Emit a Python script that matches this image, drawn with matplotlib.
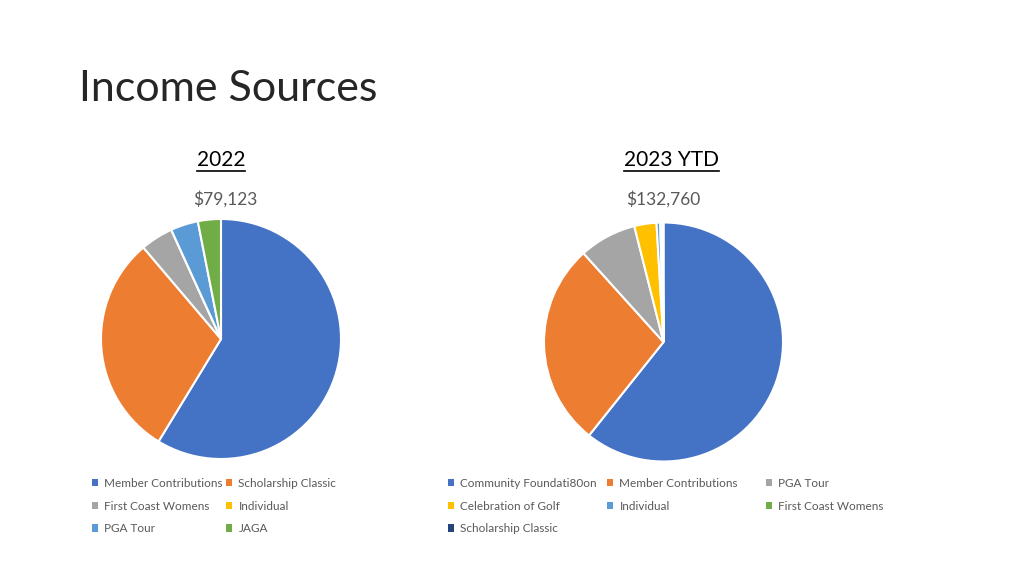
import matplotlib.pyplot as plt
from matplotlib.lines import Line2D
from matplotlib.patches import Patch

# 2022 income by source
labels_2022 = ["Member Contributions", "Scholarship Classic", "First Coast Womens",
               "Individual", "PGA Tour", "JAGA"]
values_2022 = [46450, 23800, 3480, 0, 2930, 2450]
total_2022 = "$79,123"

# 2023 YTD income by source
labels_2023 = ["Community Foundati80on", "Member Contributions", "PGA Tour",
               "Celebration of Golf", "Individual", "First Coast Womens",
               "Scholarship Classic"]
values_2023 = [80600, 36650, 10290, 3980, 660, 400, 180]
total_2023 = "$132,760"

# Office palette
BLUE, ORANGE, GRAY, YELLOW, LBLUE, GREEN, DBLUE = (
    "#4472C4", "#ED7D31", "#A5A5A5", "#FFC000", "#5B9BD5", "#70AD47", "#264478")
colors_2022 = [BLUE, ORANGE, GRAY, YELLOW, LBLUE, GREEN]
colors_2023 = [BLUE, ORANGE, GRAY, YELLOW, LBLUE, GREEN, DBLUE]

plt.rcParams["font.family"] = ["Lato", "DejaVu Sans"]
W, H = 1024, 576
fig = plt.figure(figsize=(W / 100, H / 100), dpi=100)


def pie_axes(cx, cy, r):
    # pixel centre/radius -> figure fraction
    return fig.add_axes([(cx - r) / W, (H - cy - r) / H, 2 * r / W, 2 * r / H])


def draw_pie(ax, vals, cols):
    ax.pie(vals, colors=cols, startangle=90, counterclock=False, radius=1,
           wedgeprops=dict(edgecolor="white", linewidth=1.5))
    ax.set_xlim(-1, 1)
    ax.set_ylim(-1, 1)
    ax.set_aspect("equal")
    ax.axis("off")


ax1 = pie_axes(221, 339, 120)
draw_pie(ax1, values_2022, colors_2022)
ax2 = pie_axes(663.5, 342, 119.5)
draw_pie(ax2, values_2023, colors_2023)

# titles
fig.text(79 / W, 1 - 101 / H, "Income Sources", fontsize=31,
         color="#262626", va="baseline", ha="left")
head1 = fig.text(221 / W, 1 - 166 / H, "2022", fontsize=15, color="black",
                 ha="center", va="baseline")
head2 = fig.text(671 / W, 1 - 166 / H, "2023 YTD", fontsize=15, color="black",
                 ha="center", va="baseline")
fig.text(225 / W, 1 - 205 / H, total_2022, fontsize=12.5, color="#595959",
         ha="center", va="baseline")
fig.text(663.5 / W, 1 - 205 / H, total_2023, fontsize=12.5, color="#595959",
         ha="center", va="baseline")

# underline the year headings
fig.canvas.draw()
for t in (head1, head2):
    bb = t.get_window_extent()
    y = (H - 171) / H
    fig.add_artist(Line2D([bb.x0 / W, bb.x1 / W], [y, y], color="black", lw=1.2,
                          transform=fig.transFigure))


def legend_column(labels, cols, x, y_top):
    handles = [Patch(facecolor=c, edgecolor="none") for c in cols]
    leg = fig.legend(handles, labels, loc="upper left",
                     bbox_to_anchor=(x / W, 1 - y_top / H), frameon=False,
                     fontsize=8.5, labelcolor="#595959", handlelength=0.55,
                     handleheight=0.55, handletextpad=0.5, labelspacing=0.98,
                     borderaxespad=0, borderpad=0)
    return leg


# legend for 2022 (row-major layout, 2 columns)
legend_column(labels_2022[0::2], colors_2022[0::2], 92, 478)
legend_column(labels_2022[1::2], colors_2022[1::2], 226, 478)

# legend for 2023 (row-major layout, 3 columns)
legend_column(labels_2023[0::3], colors_2023[0::3], 448, 478)
legend_column(labels_2023[1::3], colors_2023[1::3], 607, 478)
legend_column(labels_2023[2::3], colors_2023[2::3], 766, 478)

fig.savefig("out.png", dpi=100, facecolor="white")
